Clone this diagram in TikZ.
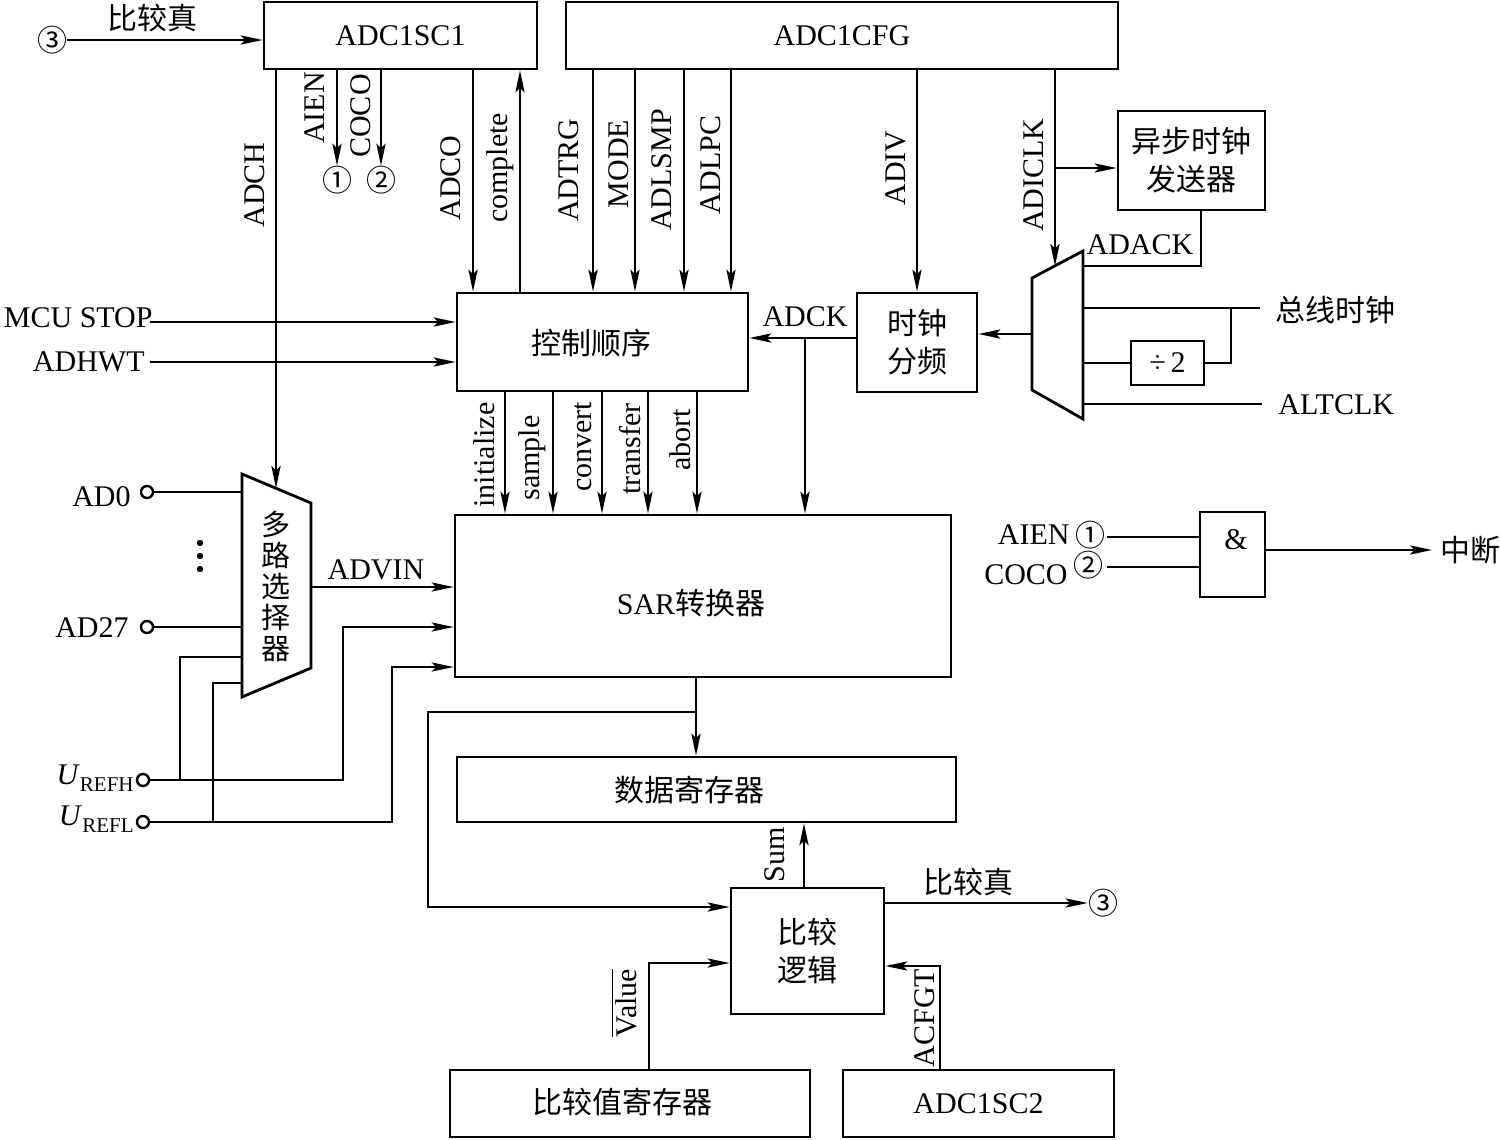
\documentclass[tikz,border=0pt]{standalone}
\usepackage{fontspec}
\setmainfont{Liberation Serif}
\newfontfamily\cjk{Noto Sans CJK SC}[Scale=1.0]
\usetikzlibrary{arrows.meta}
\begin{document}
\begin{tikzpicture}[x=0.5pt,y=-0.5pt,
  every node/.style={font=\fontsize{15}{18}\selectfont, inner sep=0pt},
  zh/.style={font=\fontsize{15}{19}\selectfont\cjk, align=center},
  zhm/.style={font=\fontsize{14.5}{15.5}\selectfont\cjk, align=center},
  box/.style={draw, line width=1.4pt},
  wire/.style={line width=1pt},
  arr/.style={wire, -{Stealth[length=11pt,width=4.6pt,inset=2.2pt]}},
  vl/.style={rotate=90},
  term/.style={circle, draw, line width=1.2pt, minimum size=6pt, inner sep=0pt},
  shp/.style={line width=1.4pt, line join=miter}
]
\useasboundingbox (0,0) rectangle (1500,1140);

% ---------- boxes ----------
\node[box, minimum width=136.5pt, minimum height=33.5pt] (sc1) at (400.5,35.5) {ADC1SC1};
\node[box, minimum width=276pt, minimum height=33.5pt] (cfg) at (842,35.5) {ADC1CFG};
\node[box, zh, minimum width=73.5pt, minimum height=49.5pt] (async) at (1191.5,160.5) {异步时钟\\发送器};
\node[box, minimum width=145.5pt, minimum height=49pt] (ctrl) at (602.5,342) {};
\node[zh] (ctrlt) at (591,343) {控制顺序};
\node[box, zh, minimum width=60pt, minimum height=49.5pt] (clkdiv) at (917,342.5) {时钟\\分频};
\node[box, minimum width=36.5pt, minimum height=22pt] (div2) at (1167.5,363) {÷\,2};
\node[box, minimum width=248pt, minimum height=81pt] (sar) at (703,596) {};
\node (sart) at (691,603) {SAR{\cjk 转换器}};
\node[box, minimum width=249.5pt, minimum height=32.5pt] (dreg) at (706.5,789.5) {};
\node[zh] (dregt) at (689,790) {数据寄存器};
\node[box, zh, minimum width=76.5pt, minimum height=63pt] (cmp) at (807.5,951) {比较\\逻辑};
\node[box, minimum width=180pt, minimum height=33.5pt] (cvreg) at (630,1103.5) {};
\node[zh] (cvregt) at (622,1102) {比较值寄存器};
\node[box, minimum width=135.5pt, minimum height=33.5pt] (sc2) at (978.5,1103.5) {ADC1SC2};
\node[box, minimum width=32.5pt, minimum height=42.5pt] (andg) at (1232.5,554.5) {};
\node (amp) at (1236,540) {\&};

% ---------- multiplexers ----------
\draw[shp] (242,474) -- (311,503) -- (311,668) -- (242,697) -- cycle;
\node[zhm] (muxt) at (276,586) {多\\路\\选\\择\\器};
\coordinate (muxin) at (276,488);
\draw[shp] (1032,278) -- (1083,251) -- (1083,419) -- (1032,390) -- cycle;
\coordinate (cmuxin) at (1055,266);
\coordinate (cmuxout) at (1032,334);

% ---------- top-left ----------
\node[zh] (c3a) at (52,40) {③};
\node[zh] (lcmp1) at (152,18) {比较真};
\draw[arr] (c3a.east) -- (c3a.east -| sc1.west);

% ADC1SC1 signals
\draw[arr] (sc1.south -| muxin) -- (muxin);
\node[vl] (lADCH) at (255,185) {ADCH};
\node[zh] (n1) at (337,180) {①};
\node[zh] (n2) at (381,180) {②};
\draw[arr] (sc1.south -| n1) -- (n1.north);
\draw[arr] (sc1.south -| n2) -- (n2.north);
\node[vl] (lAIEN) at (315,108) {AIEN};
\node[vl] (lCOCO) at (361,116) {COCO};
\draw[arr] (sc1.south -| 473,0) -- (ctrl.north -| 473,0);
\node[vl] (lADCO) at (451,178) {ADCO};
\draw[arr] (ctrl.north -| 520,0) -- (sc1.south -| 520,0);
\node[vl] (lcomplete) at (500,168) {complete};

% ADC1CFG signals
\draw[arr] (cfg.south -| 593,0) -- (ctrl.north -| 593,0);
\draw[arr] (cfg.south -| 635,0) -- (ctrl.north -| 635,0);
\draw[arr] (cfg.south -| 684,0) -- (ctrl.north -| 684,0);
\draw[arr] (cfg.south -| 731,0) -- (ctrl.north -| 731,0);
\node[vl] (lADTRG) at (569,170) {ADTRG};
\node[vl] (lMODE) at (619,164) {MODE};
\node[vl] (lADLSMP) at (662,170) {ADLSMP};
\node[vl] (lADLPC) at (711,165) {ADLPC};
\draw[arr] (cfg.south -| clkdiv) -- (clkdiv.north);
\node[vl] (lADIV) at (896,168) {ADIV};
\draw[arr] (cfg.south -| cmuxin) -- (cmuxin);
\node[vl] (lADICLK) at (1034,175) {ADICLK};
\coordinate (adiclkbr) at (1055,168);
\draw[arr] (adiclkbr) -- (adiclkbr -| async.west);

% clock source
\coordinate (ackin) at (1083,266);
\draw[wire] (async.south -| 1201,0) |- (ackin);
\node (lADACK) at (1140,245) {ADACK};
\coordinate (busclk) at (1260,308);
\draw[wire] (busclk) -- (busclk -| ackin);
\coordinate (busbr) at (1231,308);
\draw[wire] (busbr) |- (div2.east);
\draw[wire] (div2.west) -- (div2.west -| ackin);
\coordinate (altclk) at (1262,404);
\draw[wire] (altclk) -- (altclk -| ackin);
\node[zh, anchor=west] (lbus) at (1275,310) {总线时钟};
\node[anchor=west] (lalt) at (1278,405) {ALTCLK};
\draw[arr] (cmuxout) -- (cmuxout -| clkdiv.east);

% ADCK
\coordinate (adck) at (857,338);
\draw[arr] (adck -| clkdiv.west) -- (adck -| ctrl.east);
\node (lADCK) at (805,317) {ADCK};
\coordinate (adckbr) at (805,338);
\draw[arr] (adckbr) -- (sar.north -| adckbr);

% MCU STOP / ADHWT
\node[anchor=east] (lmcu) at (153,318) {MCU STOP};
\node[anchor=east] (ladhwt) at (145,362) {ADHWT};
\coordinate (mcu) at (150,322);
\coordinate (hwt) at (150,362);
\draw[arr] (mcu) -- (mcu -| ctrl.west);
\draw[arr] (hwt) -- (hwt -| ctrl.west);

% control -> SAR
\foreach \x in {505,553,602,648,697}{
  \draw[arr] (ctrl.south -| \x,0) -- (sar.north -| \x,0);
}
\node[vl] (linit) at (484,455) {initialize};
\node[vl] (lsample) at (532,458) {sample};
\node[vl] (lconvert) at (583,447) {convert};
\node[vl] (ltransfer) at (630,449) {transfer};
\node[vl] (labort) at (680,440) {abort};

% analog inputs
\node[term] (ad0) at (147,492) {};
\node[term] (ad27) at (147,627) {};
\node[term] (urefh) at (143,780) {};
\node[term] (urefl) at (143,822) {};
\node[anchor=east] (lad0) at (131,497) {AD0};
\node[anchor=east] (lad27) at (129,628) {AD27};
\foreach \y in {543,556,569}{ \fill (200,\y) circle[radius=1.6pt]; }
\node[anchor=east] (lurefh) at (134,778) {\textit{U}\raisebox{-3.5pt}{\fontsize{10.5}{11}\selectfont REFH}};
\node[anchor=east] (lurefl) at (134,819) {\textit{U}\raisebox{-3.5pt}{\fontsize{10.5}{11}\selectfont REFL}};
\draw[wire] (ad0.east) -- (242,492);
\draw[wire] (ad27.east) -- (242,627);
\coordinate (advin) at (311,587);
\draw[arr] (advin) -- (advin -| sar.west);
\node (lADVIN) at (376,570) {ADVIN};
\draw[arr] (urefh.east) -| (343,627) -- (sar.west |- 343,627);
\draw[arr] (urefl.east) -| (392,667) -- (sar.west |- 392,667);
\draw[wire] (180,780) |- (242,657);
\draw[wire] (213,822) |- (242,683);

% SAR -> data register, compare
\draw[arr] (sar.south -| 696,0) -- (dreg.north -| 696,0);
\coordinate (sarbr) at (696,712);
\draw[arr] (sarbr) -| (428,907) -- (cmp.west |- 428,907);
\draw[arr] (cmp.north -| 804,0) -- (dreg.south -| 804,0);
\node[vl] (lsum) at (775,855) {Sum};
\node[zh] (c3b) at (1103,903) {③};
\draw[arr] (cmp.east |- c3b) -- (c3b.west);
\node[zh] (lcmp2) at (968,882) {比较真};
\draw[arr] (cvreg.north -| 649,0) |- (cmp.west |- 0,963);
\node[vl] (lvalue) at (624,1003) {$\overline{\mbox{Value}}$};
\draw[arr] (sc2.north -| 940,0) |- (cmp.east |- 0,966);
\node[vl] (lacfgt) at (925,1018) {ACFGT};

% AND gate
\node[anchor=east] (laien) at (1070,535) {AIEN};
\node[anchor=east] (lcoco) at (1068,575) {COCO};
\node[zh] (n1b) at (1090,535) {①};
\node[zh] (n2b) at (1088,565) {②};
\draw[wire] (1107,537) -- (andg.west |- 0,537);
\draw[wire] (1107,567) -- (andg.west |- 0,567);
\node[zh, anchor=west] (lint) at (1440,550) {中断};
\draw[arr] (andg.east |- lint) -- (lint.west -| 1432,0);
\end{tikzpicture}
\end{document}
